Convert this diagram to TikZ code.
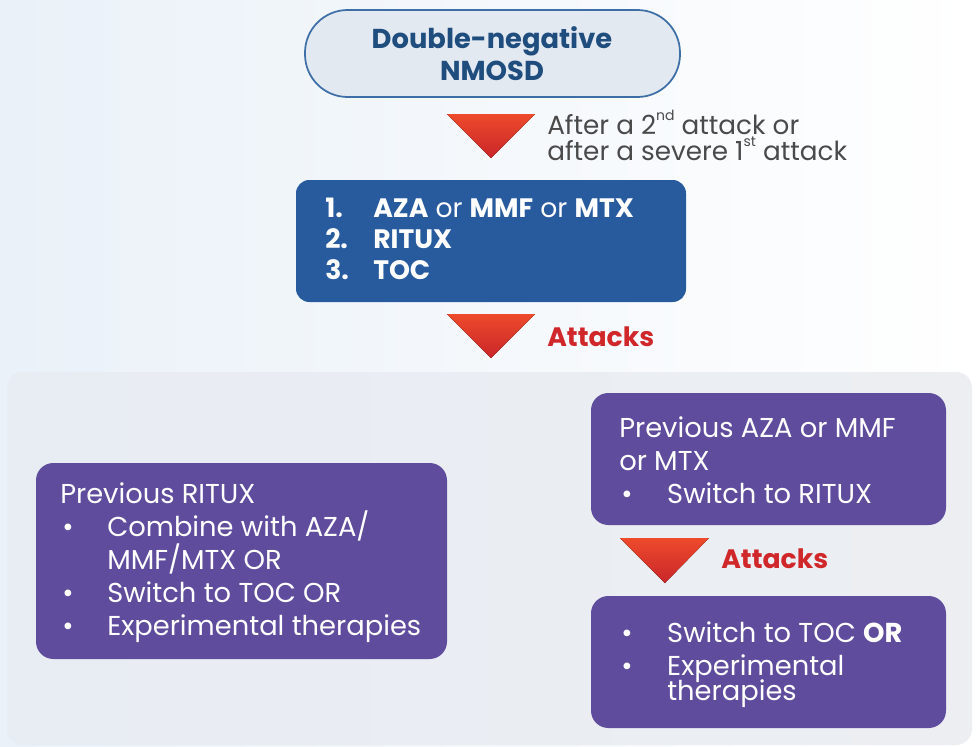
\documentclass[tikz,border=0pt]{standalone}
\usepackage{fontspec}
\setmainfont{Poppins}
\usetikzlibrary{calc}
\definecolor{bgleft}{HTML}{EAF1F8}
\definecolor{panel}{HTML}{ECEEF2}
\definecolor{panelleft}{HTML}{E8EDF3}
\definecolor{pillfill}{HTML}{E3E9F1}
\definecolor{pilldraw}{HTML}{3D6EA6}
\definecolor{pilltext}{HTML}{1E4D7E}
\definecolor{boxblue}{HTML}{275B9E}
\definecolor{boxpurple}{HTML}{5F4C9D}
\definecolor{redtxt}{HTML}{D0282A}
\definecolor{redtop}{HTML}{EE4A2C}
\definecolor{redbot}{HTML}{C9262A}
\definecolor{greytxt}{HTML}{4A4A4A}
\newcommand\bul{\makebox[35.25pt][l]{\hspace{1.5pt}•}}
\newcommand\ind{\hspace*{35.25pt}}
\newcommand\bulr{\makebox[36pt][l]{\hspace{1.5pt}•}}
\newcommand\indr{\hspace*{36pt}}
\newcommand\sups[1]{\raisebox{0.5em}{\fontsize{10.5pt}{10.5pt}\selectfont #1}}
% left-aligned lines, first baseline is the box baseline, fixed line pitch
\newcommand\llines[2]{\vtop{\baselineskip=#1\lineskiplimit=-1000pt\lineskip=0pt
  \halign{##\hfil\cr#2\crcr}}}
\newcommand\clines[2]{\vtop{\baselineskip=#1\lineskiplimit=-1000pt\lineskip=0pt
  \halign{\hfil##\hfil\cr#2\crcr}}}
\tikzset{
  pill/.style={draw=pilldraw, line width=1.3pt, fill=pillfill, rounded corners=32pt,
    minimum width=281.25pt, minimum height=65.25pt, inner sep=0pt},
  bluebox/.style={fill=boxblue, rounded corners=10pt,
    minimum width=292.5pt, minimum height=91.5pt, inner sep=0pt},
  purpbox/.style={fill=boxpurple, rounded corners=13pt, inner sep=0pt},
  wtxt/.style={text=white, anchor=base west, inner sep=0pt,
    font=\fontsize{20.5pt}{24.75pt}\selectfont},
  redtri/.style={top color=redtop, bottom color=redbot, draw=none},
  attk/.style={text=redtxt, anchor=base west, inner sep=0pt,
    font=\bfseries\fontsize{20pt}{22pt}\selectfont},
}
\begin{document}
\begin{tikzpicture}[x=0.75pt,y=-0.75pt]
\useasboundingbox (0,0) rectangle (976,747);
\shade[left color=bgleft, right color=white] (0,0) rectangle (976,747);
\shade[left color=panelleft, right color=panel, rounded corners=12pt] (7,372) rectangle (972,745);

% top pill
\node[pill] (top) at (492.5,53.5) {};
\node[text=pilltext, anchor=base, inner sep=0pt, font=\bfseries\fontsize{20.5pt}{24pt}\selectfont] (toptxt) at (492,48)
  {\clines{24pt}{Double-negative\cr NMOSD}};

% arrow 1
\fill[redtri] (447,114) -- (535,114) -- (491,158) -- cycle;
\node[text=greytxt, anchor=base west, inner sep=0pt, font=\fontsize{19.7pt}{20pt}\selectfont] (after) at (547,134)
  {\llines{19.5pt}{After a 2\sups{nd} attack or\cr after a severe 1\sups{st} attack}};

% blue box
\node[bluebox] (first) at (491,241) {};
\node[wtxt, font=\fontsize{20pt}{23.25pt}\selectfont] (firsttxt) at (325,217)
  {\llines{23.6pt}{\makebox[36pt][l]{\bfseries 1.}\textbf{AZA} or \textbf{MMF} or \textbf{MTX}\cr
   \makebox[36pt][l]{\bfseries 2.}\textbf{RITUX}\cr
   \makebox[36pt][l]{\bfseries 3.}\textbf{TOC}}};

% arrow 2
\fill[redtri] (447,314) -- (535,314) -- (491,358) -- cycle;
\node[attk] (att1) at (547,346) {Attacks};

% left box
\node[purpbox, minimum width=308.25pt, minimum height=147pt] (left) at (241.5,561) {};
\node[wtxt] (lefttxt) at (60,503)
  {\llines{24.75pt}{Previous RITUX\cr
   \bul Combine with AZA/\cr
   \ind MMF/MTX OR\cr
   \bul Switch to TOC OR\cr
   \bul Experimental therapies}};

% right top box
\node[purpbox, minimum width=266.25pt, minimum height=99pt] (rtop) at (768.5,459) {};
\node[wtxt] (rtoptxt) at (619,437)
  {\llines{24.75pt}{Previous AZA or MMF\cr
   or MTX\cr
   \bulr Switch to RITUX}};

% arrow 3
\fill[redtri] (620,538) -- (709,538) -- (665,583) -- cycle;
\node[attk] (att2) at (721,568) {Attacks};

% right bottom box
\node[purpbox, minimum width=266.25pt, minimum height=99pt] (rbot) at (768.5,662) {};
\node[wtxt] (rbottxt) at (619,642)
  {\llines{24.75pt}{\bulr Switch to TOC \textbf{OR}\cr
   \bulr Experimental\cr
   \noalign{\vskip-6pt}
   \indr therapies}};
\end{tikzpicture}
\end{document}
